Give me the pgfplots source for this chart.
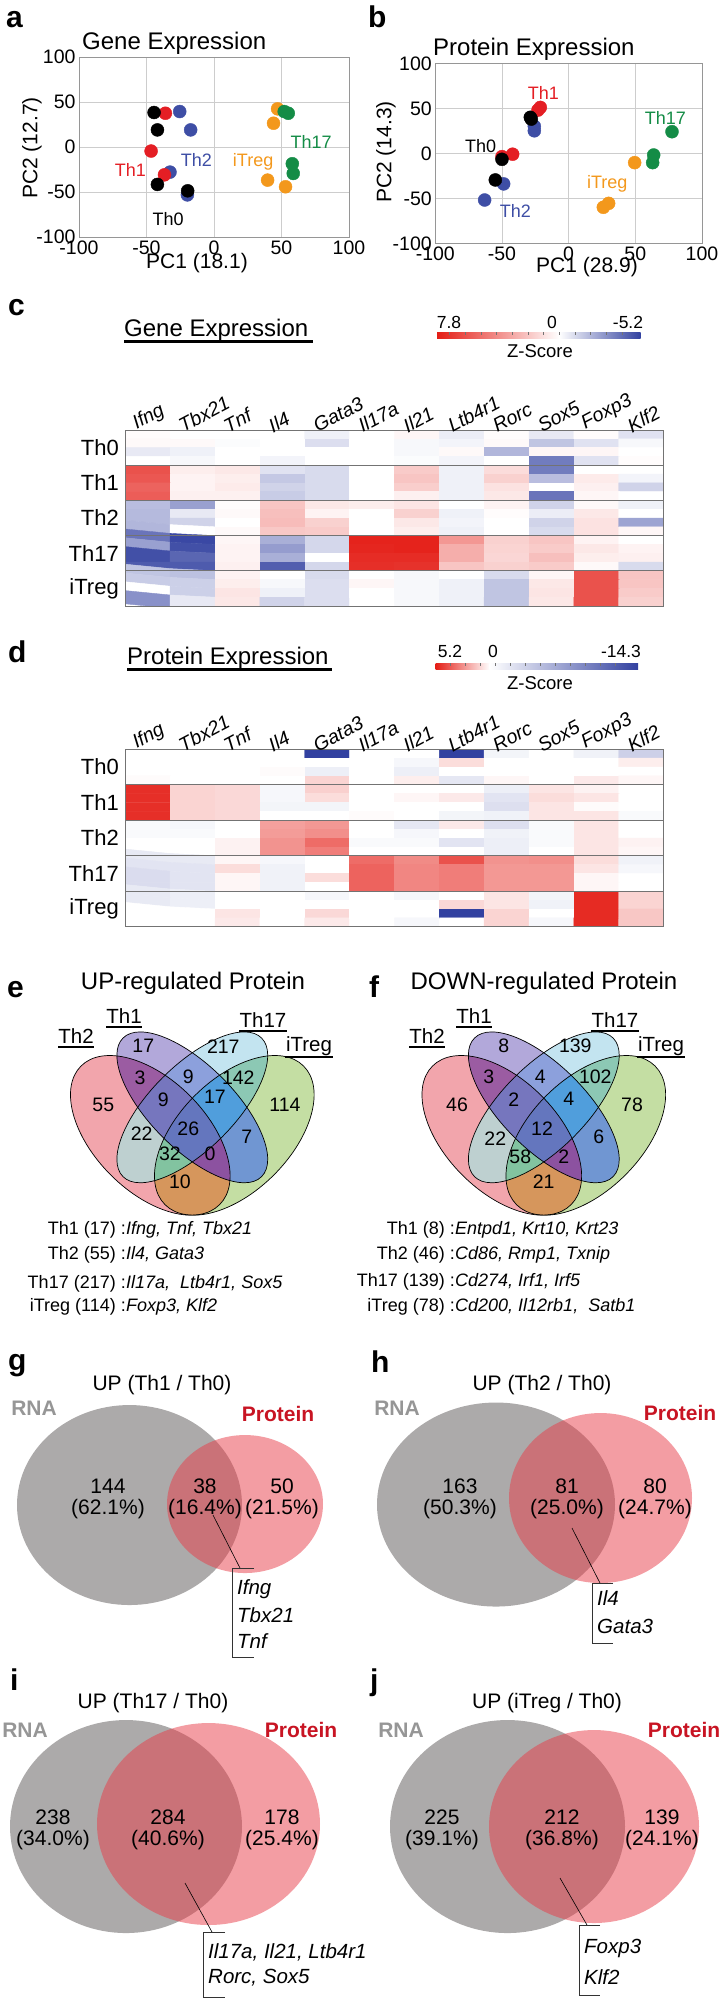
\documentclass[border=0pt]{standalone}
\usepackage{fontspec}
\setmainfont{Liberation Sans}
\usepackage{pgfplots}
\pgfplotsset{compat=1.18}
\newcommand{\fs}[1]{\fontsize{#1pt}{#1pt}\selectfont}
\definecolor{cred}{RGB}{228,30,36}
\definecolor{cblue}{RGB}{62,78,165}
\definecolor{corange}{RGB}{243,152,28}
\definecolor{cgreen}{RGB}{20,140,70}
\definecolor{gridc}{RGB}{205,205,205}
\definecolor{framec}{RGB}{150,150,150}
\definecolor{rnagray}{RGB}{172,170,170}
\definecolor{protred}{RGB}{232,60,72}
\definecolor{rnatext}{RGB}{150,150,150}
\definecolor{prottext}{RGB}{200,20,35}
\definecolor{kred}{RGB}{228,30,22}
\definecolor{kblue}{RGB}{50,65,160}
% Venn region colours
\definecolor{rA}{RGB}{242,165,172}
\definecolor{rB}{RGB}{178,168,218}
\definecolor{rC}{RGB}{195,228,240}
\definecolor{rD}{RGB}{196,222,163}
\definecolor{rAB}{RGB}{155,92,162}
\definecolor{rAC}{RGB}{190,208,208}
\definecolor{rAD}{RGB}{214,150,92}
\definecolor{rBC}{RGB}{140,160,220}
\definecolor{rBD}{RGB}{112,150,210}
\definecolor{rCD}{RGB}{140,200,180}
\definecolor{rABC}{RGB}{118,118,190}
\definecolor{rABD}{RGB}{140,82,160}
\definecolor{rACD}{RGB}{130,195,160}
\definecolor{rBCD}{RGB}{80,158,220}
\definecolor{rABCD}{RGB}{100,118,190}
\newcommand{\vA}[2]{#1[rotate around={135:(axis cs:#2,1135.3)}] (axis cs:#2,1135.3) ellipse [x radius=98pt, y radius=56pt];}
\newcommand{\vB}[2]{#1[rotate around={135:(axis cs:#2,1107.3)}] (axis cs:#2,1107.3) ellipse [x radius=98pt, y radius=42pt];}
\newcommand{\vC}[2]{#1[rotate around={45:(axis cs:#2,1107.3)}] (axis cs:#2,1107.3) ellipse [x radius=98pt, y radius=42pt];}
\newcommand{\vD}[2]{#1[rotate around={45:(axis cs:#2,1135.3)}] (axis cs:#2,1135.3) ellipse [x radius=98pt, y radius=56pt];}
\newcommand{\venn}[3]{%
 \vA{\fill[rA]}{#1}\vB{\fill[rB]}{#2}\vC{\fill[rC]}{#2}\vD{\fill[rD]}{#3}%
 \begin{scope}\vA{\clip}{#1}\vB{\fill[rAB]}{#2}\end{scope}%
 \begin{scope}\vA{\clip}{#1}\vC{\fill[rAC]}{#2}\end{scope}%
 \begin{scope}\vA{\clip}{#1}\vD{\fill[rAD]}{#3}\end{scope}%
 \begin{scope}\vB{\clip}{#2}\vC{\fill[rBC]}{#2}\end{scope}%
 \begin{scope}\vB{\clip}{#2}\vD{\fill[rBD]}{#3}\end{scope}%
 \begin{scope}\vC{\clip}{#2}\vD{\fill[rCD]}{#3}\end{scope}%
 \begin{scope}\vA{\clip}{#1}\vB{\clip}{#2}\vC{\fill[rABC]}{#2}\end{scope}%
 \begin{scope}\vA{\clip}{#1}\vB{\clip}{#2}\vD{\fill[rABD]}{#3}\end{scope}%
 \begin{scope}\vA{\clip}{#1}\vC{\clip}{#2}\vD{\fill[rACD]}{#3}\end{scope}%
 \begin{scope}\vB{\clip}{#2}\vC{\clip}{#2}\vD{\fill[rBCD]}{#3}\end{scope}%
 \begin{scope}\vA{\clip}{#1}\vB{\clip}{#2}\vC{\clip}{#2}\vD{\fill[rABCD]}{#3}\end{scope}%
 \vA{\draw[line width=0.7pt]}{#1}\vB{\draw[line width=0.7pt]}{#2}\vC{\draw[line width=0.7pt]}{#2}\vD{\draw[line width=0.7pt]}{#3}%
}
\pgfplotsset{
  colormap={genemap}{rgb255=(50,65,160) rgb255=(153,160,208) rgb255=(255,255,255) rgb255=(246,180,177) rgb255=(237,105,100) rgb255=(228,30,22)},
  colormap={protmap}{rgb255=(50,65,160) rgb255=(69,82,169) rgb255=(87,100,177) rgb255=(106,117,186) rgb255=(125,134,195) rgb255=(143,151,203) rgb255=(162,169,212) rgb255=(180,186,220) rgb255=(199,203,229) rgb255=(218,220,238) rgb255=(236,238,246) rgb255=(255,255,255) rgb255=(248,199,197) rgb255=(242,143,139) rgb255=(235,86,80) rgb255=(228,30,22)},
  pca/.style={anchor=south west, scale only axis, xmin=-100, xmax=100, ymin=-100, ymax=100,
    xtick={-100,-50,0,50,100}, ytick={-100,-50,0,50,100}, grid=major,
    grid style={gridc, line width=0.6pt}, axis line style={framec, line width=0.8pt},
    major tick length=0pt, tick label style={font=\fs{19.5}},
    /pgf/number format/assume math mode=true, clip=false},
  heat/.style={anchor=south west, scale only axis, width=538.3pt,
    xmin=-0.5, xmax=11.5, ymin=-0.5, ymax=19.5, y dir=reverse, axis on top,
    xtick={0,...,11}, xticklabels={Ifng,Tbx21,Tnf,Il4,Gata3,Il17a,Il21,Ltb4r1,Rorc,Sox5,Foxp3,Klf2},
    xticklabel pos=upper, xticklabel style={rotate=28, anchor=south west, font=\itshape\fs{19.5}, xshift=-13pt, yshift=-2pt},
    ytick={1.5,5.5,9.5,13.5,17.5}, yticklabels={Th0,Th1,Th2,Th17,iTreg},
    yticklabel style={font=\fs{22}, xshift=-3pt},
    major tick length=0pt, axis line style={black!55, line width=0.8pt}},
  pts/.style={only marks, mark=*, mark size=6.5pt},
}
\begin{document}
\begin{tikzpicture}
\useasboundingbox (0pt,0pt) rectangle (723pt,-1999pt);
% ---------------- panel a
\begin{axis}[pca, at={(79pt,-237pt)}, width=270pt, height=180pt]
\addplot[pts, color=cblue] coordinates {(-25.4,39.4) (-17.3,19) (-32.6,-27.9) (-19.7,-53.2)};
\addplot[pts, color=cred] coordinates {(-36,37.5) (-46.6,-4.5) (-36.7,-30.9)};
\addplot[pts, color=black] coordinates {(-44.4,38.3) (-41.9,19) (-41.9,-41.6) (-19.5,-48.7)};
\addplot[pts, color=corange] coordinates {(47.1,42.4) (44.1,26.4) (39.7,-36.8) (53,-44.2)};
\addplot[pts, color=cgreen] coordinates {(52,39.4) (55,37.5) (58,-18.6) (58.7,-29.4)};
\node[text=cgreen, font=\fs{18}] at (axis cs:72,6) {Th17};
\node[text=corange, font=\fs{18}] at (axis cs:29,-16) {iTreg};
\node[text=cblue, font=\fs{18}] at (axis cs:-13,-14) {Th2};
\node[text=cred, font=\fs{18}] at (axis cs:-62,-26) {Th1};
\node[text=black, font=\fs{18}] at (axis cs:-34,-80) {Th0};
\end{axis}
% ---------------- panel b
\begin{axis}[pca, at={(435.3pt,-243.3pt)}, width=266.7pt, height=180pt]
\addplot[pts, color=cblue] coordinates {(-25.75,30) (-25.75,25) (-48.75,-34) (-63,-51.9)};
\addplot[pts, color=cred] coordinates {(-21.25,51) (-23,48) (-42,-1) (-50,-3.7)};
\addplot[pts, color=black] coordinates {(-28.75,40) (-28,38) (-50,-6.7) (-55,-29.6)};
\addplot[pts, color=corange] coordinates {(49.5,-10.4) (30,-55.6) (26,-60)};
\addplot[pts, color=cgreen] coordinates {(77.5,24) (63.75,-1.9) (63,-10.4)};
\node[text=cred, font=\fs{18}] at (axis cs:-19,67) {Th1};
\node[text=cgreen, font=\fs{18}] at (axis cs:72.5,39) {Th17};
\node[text=black, font=\fs{18}] at (axis cs:-66,8) {Th0};
\node[text=corange, font=\fs{18}] at (axis cs:29,-34) {iTreg};
\node[text=cblue, font=\fs{18}] at (axis cs:-40,-64) {Th2};
\end{axis}
% ---------------- panel c heatmap
\begin{axis}[heat, at={(125.3pt,-606pt)}, height=176pt,
  colormap name=genemap, point meta min=-5.2, point meta max=7.8]
\addplot[matrix plot*, mesh/cols=12, mesh/rows=20, point meta=explicit]
 table[header=false, row sep=\\, x expr={mod(\coordindex,12)}, y expr={floor(\coordindex/12)}, meta index=0] {
0.1\\0\\0\\0\\-0.4\\0\\0.3\\-0.5\\0.1\\-0.6\\0.1\\-0.8\\
0.2\\0.2\\-0.1\\0\\-0.9\\0\\-0.2\\-0.3\\0.2\\-1.6\\-0.8\\-0.2\\
-0.6\\-0.4\\0\\0\\0\\0\\-0.2\\0.2\\-2.0\\0.3\\0.3\\0\\
0\\-0.2\\0\\-0.3\\0\\0\\-0.1\\-0.3\\0\\-3.6\\-0.8\\0.1\\
6.0\\0.6\\0.8\\-0.8\\-1.0\\0\\1.8\\-0.4\\1.2\\-3.6\\0\\0\\
5.8\\0.4\\0.6\\-1.5\\-1.0\\0\\2.0\\-0.4\\1.6\\-1.8\\0.7\\-0.3\\
5.4\\0.4\\0.7\\-1.2\\-1.0\\0\\1.7\\-0.4\\1.0\\0\\0.5\\-1.2\\
5.6\\0.5\\0.5\\-1.4\\-1.0\\0\\0.5\\-0.4\\0.8\\-3.8\\0.3\\0\\
-1.8\\-2.6\\0.1\\2.0\\0.8\\0.6\\0.9\\0\\0.4\\-1.2\\0.2\\-0.4\\
-1.9\\-0.6\\0.2\\2.2\\0.4\\0\\1.6\\-0.4\\0.1\\-0.5\\0.8\\0\\
-1.9\\-1.2\\0\\2.3\\1.6\\0\\0.8\\-0.3\\0\\-1.2\\1.0\\-2.5\\
-2.0\\0\\0.2\\1.9\\1.8\\0\\0.6\\-0.4\\0\\-1.0\\1.0\\0.3\\
-3.8\\-5.0\\0.3\\-2.2\\-1.1\\7.6\\7.6\\3.6\\1.6\\2.0\\0.4\\0\\
-2.6\\-4.8\\0.4\\-2.7\\-1.1\\7.5\\7.6\\2.8\\1.5\\1.8\\0.8\\0.4\\
-4.8\\-4.2\\0.4\\-2.2\\0\\7.3\\7.3\\2.8\\1.4\\2.2\\0.6\\0.5\\
-4.5\\-4.5\\0.5\\-4.4\\-1.1\\7.2\\7.1\\2.0\\1.6\\1.8\\0.2\\-1.0\\
-1.6\\-1.7\\0.4\\0\\-1.0\\0\\-0.2\\0\\-1.0\\0.3\\6.0\\2.0\\
-1.4\\-1.3\\0.6\\-0.2\\-0.9\\0.3\\-0.2\\-0.4\\-1.6\\0.8\\6.0\\2.0\\
0\\-1.3\\0.9\\-0.4\\-0.9\\0\\-0.2\\-0.4\\-1.6\\0.9\\6.0\\1.8\\
-3.0\\-0.6\\0.8\\-1.2\\-0.9\\0\\-0.2\\-0.4\\-1.6\\0.8\\6.0\\1.6\\
};
\draw[black!55, line width=0.8pt] (axis cs:-0.5,3.5) -- (axis cs:11.5,3.5);
\draw[black!55, line width=0.8pt] (axis cs:-0.5,7.5) -- (axis cs:11.5,7.5);
\draw[black!55, line width=0.8pt] (axis cs:-0.5,11.5) -- (axis cs:11.5,11.5);
\draw[black!55, line width=0.8pt] (axis cs:-0.5,15.5) -- (axis cs:11.5,15.5);
\end{axis}
% ---------------- panel d heatmap
\begin{axis}[heat, at={(125.3pt,-926.7pt)}, height=177.4pt,
  colormap name=protmap, point meta min=-14.3, point meta max=5.2]
\addplot[matrix plot*, mesh/cols=12, mesh/rows=20, point meta=explicit]
 table[header=false, row sep=\\, x expr={mod(\coordindex,12)}, y expr={floor(\coordindex/12)}, meta index=0] {
0\\0\\0\\0\\-14.3\\0\\0\\-14.3\\-0.8\\0\\-1.0\\-3.5\\
0\\0\\0\\0\\0\\0\\-0.6\\0.8\\0\\0\\0\\0.4\\
0\\0\\0\\0.1\\-1.2\\0\\-1.2\\0\\0\\0\\0\\0\\
0.1\\0\\0\\0\\1.0\\0\\0.4\\-1.8\\0.2\\0\\0.5\\0.2\\
4.8\\1.0\\0.9\\-0.6\\1.1\\0\\0\\0\\-1.2\\0.6\\0.3\\0\\
4.8\\1.0\\0.9\\-0.6\\0.8\\0\\0.2\\0.5\\-2.0\\0.8\\0.6\\0\\
4.8\\1.0\\0.9\\-0.8\\-0.8\\0\\0\\0\\-2.4\\0.6\\0.1\\0\\
4.8\\1.0\\0.9\\0\\0\\0.1\\0\\-0.8\\-1.0\\0.6\\0.6\\-0.4\\
-0.4\\-0.6\\0\\2.2\\2.4\\0\\-1.8\\0.5\\-2.4\\-0.4\\0.6\\0\\
-0.4\\-0.4\\0\\2.3\\2.6\\0\\-0.6\\0\\-1.0\\-0.4\\0.6\\0\\
0\\0\\0.3\\2.5\\3.4\\-0.4\\-0.4\\-2.0\\-1.2\\-0.4\\0.6\\0.3\\
0\\0\\0.3\\2.5\\3.0\\0\\0\\0\\-1.2\\0\\0.6\\0.2\\
-1.6\\-1.6\\0.2\\-0.6\\0\\3.4\\2.7\\4.0\\2.5\\2.6\\0.8\\-1.0\\
-2.0\\-2.0\\0.8\\-1.0\\0\\3.6\\2.8\\3.0\\2.4\\2.4\\0.6\\-0.6\\
-2.6\\-2.0\\0.2\\-1.0\\0.8\\3.6\\2.8\\3.0\\2.4\\2.4\\0.2\\0\\
-2.6\\-2.0\\0.2\\-1.0\\0\\3.6\\2.8\\3.0\\2.4\\2.4\\0.2\\0\\
-1.6\\-1.2\\0\\0\\-0.6\\0\\-0.6\\0\\0.6\\-0.8\\4.9\\1.0\\
-1.6\\-1.2\\0\\0\\0\\0\\0\\0.9\\0.6\\-1.0\\4.9\\1.0\\
0\\0\\0.6\\0\\0.9\\0\\0\\-14.3\\1.0\\0\\4.9\\1.3\\
0\\0\\0.5\\0\\0.5\\0\\-0.6\\0\\1.0\\-0.6\\4.9\\1.3\\
};
\draw[black!55, line width=0.8pt] (axis cs:-0.5,3.5) -- (axis cs:11.5,3.5);
\draw[black!55, line width=0.8pt] (axis cs:-0.5,7.5) -- (axis cs:11.5,7.5);
\draw[black!55, line width=0.8pt] (axis cs:-0.5,11.5) -- (axis cs:11.5,11.5);
\draw[black!55, line width=0.8pt] (axis cs:-0.5,15.5) -- (axis cs:11.5,15.5);
\end{axis}
% ---------------- overlay axis in pixel coordinates
\begin{axis}[at={(0pt,0pt)}, anchor=north west, x=1pt, y=1pt, xmin=0, xmax=723, ymin=0, ymax=1999,
  y dir=reverse, hide axis, clip=false]
% panel letters
\node[anchor=base west, inner sep=0, font=\bfseries\fs{30}] at (axis cs:6,27) {a};
\node[anchor=base west, inner sep=0, font=\bfseries\fs{30}] at (axis cs:368,27) {b};
\node[anchor=base west, inner sep=0, font=\bfseries\fs{30}] at (axis cs:8,315) {c};
\node[anchor=base west, inner sep=0, font=\bfseries\fs{30}] at (axis cs:8,662) {d};
\node[anchor=base west, inner sep=0, font=\bfseries\fs{30}] at (axis cs:7,997) {e};
\node[anchor=base west, inner sep=0, font=\bfseries\fs{30}] at (axis cs:369,997) {f};
\node[anchor=base west, inner sep=0, font=\bfseries\fs{30}] at (axis cs:8,1370) {g};
\node[anchor=base west, inner sep=0, font=\bfseries\fs{30}] at (axis cs:371,1372) {h};
\node[anchor=base west, inner sep=0, font=\bfseries\fs{30}] at (axis cs:10,1690) {i};
\node[anchor=base west, inner sep=0, font=\bfseries\fs{30}] at (axis cs:370,1690) {j};
% PCA titles and labels
\node[anchor=west, inner sep=0, font=\fs{24}] at (axis cs:82,43) {Gene Expression};
\node[anchor=west, inner sep=0, font=\fs{24}] at (axis cs:433,49) {Protein Expression};
\node[font=\fs{21}] at (axis cs:197,263) {PC1 (18.1)};
\node[font=\fs{21}, rotate=90] at (axis cs:32,148) {PC2 (12.7)};
\node[font=\fs{21}] at (axis cs:587,267) {PC1 (28.9)};
\node[font=\fs{21}, rotate=90] at (axis cs:386,152) {PC2 (14.3)};
% heatmap titles and colour keys
\node[anchor=west, inner sep=0, font=\fs{24}] at (axis cs:124,330) {Gene Expression};
\draw[line width=2.2pt] (axis cs:124,341.5) -- (axis cs:313,341.5);
\shade[left color=kred, right color=white] (axis cs:437,332) rectangle (axis cs:559.1,338);
\shade[left color=white, right color=kblue] (axis cs:559.1,332) rectangle (axis cs:640.5,338);
\draw[black!55, line width=0.4pt] (axis cs:449.5,332)--(axis cs:449.5,334.5) (axis cs:465.2,332)--(axis cs:465.2,334.5) (axis cs:480.8,332)--(axis cs:480.8,334.5) (axis cs:496.5,332)--(axis cs:496.5,334.5) (axis cs:512.1,332)--(axis cs:512.1,334.5) (axis cs:527.8,332)--(axis cs:527.8,334.5) (axis cs:543.4,332)--(axis cs:543.4,334.5) (axis cs:559.1,332)--(axis cs:559.1,334.5) (axis cs:574.8,332)--(axis cs:574.8,334.5) (axis cs:590.4,332)--(axis cs:590.4,334.5) (axis cs:606.1,332)--(axis cs:606.1,334.5) (axis cs:621.7,332)--(axis cs:621.7,334.5);
\node[font=\fs{17.5}] at (axis cs:449,322) {7.8};
\node[font=\fs{17.5}] at (axis cs:552,322) {0};
\node[font=\fs{17.5}] at (axis cs:628,322) {-5.2};
\node[font=\fs{18.5}] at (axis cs:540,351) {Z-Score};
\node[anchor=west, inner sep=0, font=\fs{24}] at (axis cs:127,658) {Protein Expression};
\draw[line width=2.2pt] (axis cs:127,669.5) -- (axis cs:332,669.5);
\shade[left color=kred, right color=white] (axis cs:435.5,663) rectangle (axis cs:489.6,669);
\shade[left color=white, right color=kblue] (axis cs:489.6,663) rectangle (axis cs:638,669);
\draw[black!55, line width=0.4pt] (axis cs:450,663)--(axis cs:450,665.5) (axis cs:465,663)--(axis cs:465,665.5) (axis cs:480,663)--(axis cs:480,665.5) (axis cs:495,663)--(axis cs:495,665.5) (axis cs:510,663)--(axis cs:510,665.5) (axis cs:525,663)--(axis cs:525,665.5) (axis cs:540,663)--(axis cs:540,665.5) (axis cs:555,663)--(axis cs:555,665.5) (axis cs:570,663)--(axis cs:570,665.5) (axis cs:585,663)--(axis cs:585,665.5) (axis cs:600,663)--(axis cs:600,665.5) (axis cs:615,663)--(axis cs:615,665.5);
\node[font=\fs{17.5}] at (axis cs:450,651) {5.2};
\node[font=\fs{17.5}] at (axis cs:493,651) {0};
\node[font=\fs{17.5}] at (axis cs:621,651) {-14.3};
\node[font=\fs{18.5}] at (axis cs:540,683) {Z-Score};
% ---- Venn e
\node[font=\fs{24}] at (axis cs:193,983) {UP-regulated Protein};
\pgfplotsextra{\venn{150.3}{192.3}{234.3}}
\node[font=\fs{20.5}] at (axis cs:76,1036) {Th2};
\draw[line width=2.6pt] (axis cs:58,1047) -- (axis cs:94,1047);
\node[font=\fs{20.5}] at (axis cs:124,1016) {Th1};
\draw[line width=2.6pt] (axis cs:106,1027) -- (axis cs:142,1027);
\node[font=\fs{20.5}] at (axis cs:263,1020) {Th17};
\draw[line width=2.6pt] (axis cs:239,1031) -- (axis cs:287,1031);
\node[font=\fs{20.5}] at (axis cs:309,1046) {iTreg};
\draw[line width=2.6pt] (axis cs:285,1057) -- (axis cs:333,1057);
\begin{scope}[every node/.style={font=\fs{19.5}}]
\node at (axis cs:143.3,1046) {17};
\node at (axis cs:223.3,1047) {217};
\node at (axis cs:140,1078) {3};
\node at (axis cs:188.3,1076.7) {9};
\node at (axis cs:238.3,1078) {142};
\node at (axis cs:103.3,1105) {55};
\node at (axis cs:163.3,1100) {9};
\node at (axis cs:215,1096.7) {17};
\node at (axis cs:285,1105) {114};
\node at (axis cs:141.7,1133.3) {22};
\node at (axis cs:188.3,1128.3) {26};
\node at (axis cs:246.7,1136.7) {7};
\node at (axis cs:170,1153.3) {32};
\node at (axis cs:210,1153.3) {0};
\node at (axis cs:180,1181.7) {10};
\end{scope}
% ---- Venn f
\node[font=\fs{24}] at (axis cs:544,983) {DOWN-regulated Protein};
\pgfplotsextra{\venn{501.8}{543.8}{585.8}}
\node[font=\fs{20.5}] at (axis cs:427,1036) {Th2};
\draw[line width=2.6pt] (axis cs:409,1047) -- (axis cs:445,1047);
\node[font=\fs{20.5}] at (axis cs:474,1016) {Th1};
\draw[line width=2.6pt] (axis cs:456,1027) -- (axis cs:492,1027);
\node[font=\fs{20.5}] at (axis cs:615,1020) {Th17};
\draw[line width=2.6pt] (axis cs:591,1031) -- (axis cs:639,1031);
\node[font=\fs{20.5}] at (axis cs:661,1046) {iTreg};
\draw[line width=2.6pt] (axis cs:637,1057) -- (axis cs:685,1057);
\begin{scope}[every node/.style={font=\fs{19.5}}]
\node at (axis cs:503.7,1046) {8};
\node at (axis cs:575.3,1046) {139};
\node at (axis cs:488.7,1076.7) {3};
\node at (axis cs:540.3,1076.7) {4};
\node at (axis cs:595.3,1076.7) {102};
\node at (axis cs:457,1105) {46};
\node at (axis cs:513.7,1100) {2};
\node at (axis cs:568.7,1098.3) {4};
\node at (axis cs:632,1105) {78};
\node at (axis cs:495.3,1138.3) {22};
\node at (axis cs:542,1128.3) {12};
\node at (axis cs:598.7,1136.7) {6};
\node at (axis cs:520.3,1156.7) {58};
\node at (axis cs:563.7,1156.7) {2};
\node at (axis cs:543.7,1181.7) {21};
\end{scope}
% ---- gene lists
\begin{scope}[every node/.style={font=\fs{18}, inner sep=0}]
\node[anchor=base east] at (axis cs:126,1234) {Th1 (17) :};
\node[anchor=base west, font=\itshape\fs{18}] at (axis cs:126,1234) {Ifng, Tnf, Tbx21};
\node[anchor=base east] at (axis cs:126,1259) {Th2 (55) :};
\node[anchor=base west, font=\itshape\fs{18}] at (axis cs:126,1259) {Il4, Gata3};
\node[anchor=base east] at (axis cs:126,1288) {Th17 (217) :};
\node[anchor=base west, font=\itshape\fs{18}] at (axis cs:126,1288) {Il17a,\ \ Ltb4r1, Sox5};
\node[anchor=base east] at (axis cs:126,1311) {iTreg (114) :};
\node[anchor=base west, font=\itshape\fs{18}] at (axis cs:126,1311) {Foxp3, Klf2};
\node[anchor=base east] at (axis cs:455,1234) {Th1 (8) :};
\node[anchor=base west, font=\itshape\fs{18}] at (axis cs:455,1234) {Entpd1, Krt10, Krt23};
\node[anchor=base east] at (axis cs:455,1259) {Th2 (46) :};
\node[anchor=base west, font=\itshape\fs{18}] at (axis cs:455,1259) {Cd86, Rmp1, Txnip};
\node[anchor=base east] at (axis cs:455,1286) {Th17 (139) :};
\node[anchor=base west, font=\itshape\fs{18}] at (axis cs:455,1286) {Cd274, Irf1, Irf5};
\node[anchor=base east] at (axis cs:455,1311) {iTreg (78) :};
\node[anchor=base west, font=\itshape\fs{18}] at (axis cs:455,1311) {Cd200, Il12rb1,\ \ Satb1};
\end{scope}
% ---- Venn g
\fill[rnagray] (axis cs:129.5,1505) ellipse [x radius=112.5pt, y radius=100pt];
\fill[protred, fill opacity=0.5] (axis cs:245,1504) ellipse [x radius=78pt, y radius=69pt];
\node[font=\fs{21}] at (axis cs:162,1385) {UP (Th1 / Th0)};
\node[font=\bfseries\fs{21}, text=rnatext] at (axis cs:34,1408) {RNA};
\node[font=\bfseries\fs{21}, text=prottext] at (axis cs:278,1414) {Protein};
\node[font=\fs{21}, align=center, inner sep=0] at (axis cs:108,1499) {144\\(62.1\%)};
\node[font=\fs{21}, align=center, inner sep=0] at (axis cs:205,1499) {38\\(16.4\%)};
\node[font=\fs{21}, align=center, inner sep=0] at (axis cs:282,1499) {50\\(21.5\%)};
\draw[line width=0.6pt] (axis cs:213,1515) -- (axis cs:240,1568);
\draw[line width=0.6pt, black!80] (axis cs:254,1568) -- (axis cs:232,1568) -- (axis cs:232,1657) -- (axis cs:254,1657);
\node[anchor=west, inner sep=0, font=\itshape\fs{20.5}] at (axis cs:237,1589) {Ifng};
\node[anchor=west, inner sep=0, font=\itshape\fs{20.5}] at (axis cs:237,1615) {Tbx21};
\node[anchor=west, inner sep=0, font=\itshape\fs{20.5}] at (axis cs:237,1641) {Tnf};
% ---- Venn h
\fill[rnagray] (axis cs:496,1504.5) ellipse [x radius=119pt, y radius=102pt];
\fill[protred, fill opacity=0.5] (axis cs:600.5,1498) ellipse [x radius=91.5pt, y radius=85pt];
\node[font=\fs{21}] at (axis cs:542,1385) {UP (Th2 / Th0)};
\node[font=\bfseries\fs{21}, text=rnatext] at (axis cs:397,1408) {RNA};
\node[font=\bfseries\fs{21}, text=prottext] at (axis cs:680,1413) {Protein};
\node[font=\fs{21}, align=center, inner sep=0] at (axis cs:460,1499) {163\\(50.3\%)};
\node[font=\fs{21}, align=center, inner sep=0] at (axis cs:567,1499) {81\\(25.0\%)};
\node[font=\fs{21}, align=center, inner sep=0] at (axis cs:655,1499) {80\\(24.7\%)};
\draw[line width=0.6pt] (axis cs:572,1528) -- (axis cs:600,1583);
\draw[line width=0.6pt, black!80] (axis cs:613,1583) -- (axis cs:592,1583) -- (axis cs:592,1643) -- (axis cs:613,1643);
\node[anchor=west, inner sep=0, font=\itshape\fs{20.5}] at (axis cs:597,1598) {Il4};
\node[anchor=west, inner sep=0, font=\itshape\fs{20.5}] at (axis cs:597,1626) {Gata3};
% ---- Venn i
\fill[rnagray] (axis cs:126,1826.5) ellipse [x radius=116pt, y radius=106.5pt];
\fill[protred, fill opacity=0.5] (axis cs:208.5,1824) ellipse [x radius=111.5pt, y radius=101pt];
\node[font=\fs{21}] at (axis cs:153,1703) {UP (Th17 / Th0)};
\node[font=\bfseries\fs{21}, text=rnatext] at (axis cs:25,1730) {RNA};
\node[font=\bfseries\fs{21}, text=prottext] at (axis cs:301,1730) {Protein};
\node[font=\fs{21}, align=center, inner sep=0] at (axis cs:53,1830) {238\\(34.0\%)};
\node[font=\fs{21}, align=center, inner sep=0] at (axis cs:168,1830) {284\\(40.6\%)};
\node[font=\fs{21}, align=center, inner sep=0] at (axis cs:282,1830) {178\\(25.4\%)};
\draw[line width=0.6pt] (axis cs:185,1883) -- (axis cs:212,1932);
\draw[line width=0.6pt, black!80] (axis cs:225,1932) -- (axis cs:203,1932) -- (axis cs:203,1997) -- (axis cs:225,1997);
\node[anchor=west, inner sep=0, font=\itshape\fs{20.5}] at (axis cs:208,1952) {Il17a, Il21, Ltb4r1};
\node[anchor=west, inner sep=0, font=\itshape\fs{20.5}] at (axis cs:208,1978) {Rorc, Sox5};
% ---- Venn j
\fill[rnagray] (axis cs:507.5,1826.5) ellipse [x radius=117.5pt, y radius=106.5pt];
\fill[protred, fill opacity=0.5] (axis cs:594,1826.5) ellipse [x radius=105pt, y radius=96.5pt];
\node[font=\fs{21}] at (axis cs:547,1703) {UP (iTreg / Th0)};
\node[font=\bfseries\fs{21}, text=rnatext] at (axis cs:401,1730) {RNA};
\node[font=\bfseries\fs{21}, text=prottext] at (axis cs:684,1730) {Protein};
\node[font=\fs{21}, align=center, inner sep=0] at (axis cs:442,1830) {225\\(39.1\%)};
\node[font=\fs{21}, align=center, inner sep=0] at (axis cs:562,1830) {212\\(36.8\%)};
\node[font=\fs{21}, align=center, inner sep=0] at (axis cs:662,1830) {139\\(24.1\%)};
\draw[line width=0.6pt] (axis cs:560,1878) -- (axis cs:587,1925);
\draw[line width=0.6pt, black!80] (axis cs:600,1925) -- (axis cs:579,1925) -- (axis cs:579,1995) -- (axis cs:600,1995);
\node[anchor=west, inner sep=0, font=\itshape\fs{20.5}] at (axis cs:584,1948) {Foxp3};
\node[anchor=west, inner sep=0, font=\itshape\fs{20.5}] at (axis cs:584,1977) {Klf2};
\end{axis}
\end{tikzpicture}
\end{document}
